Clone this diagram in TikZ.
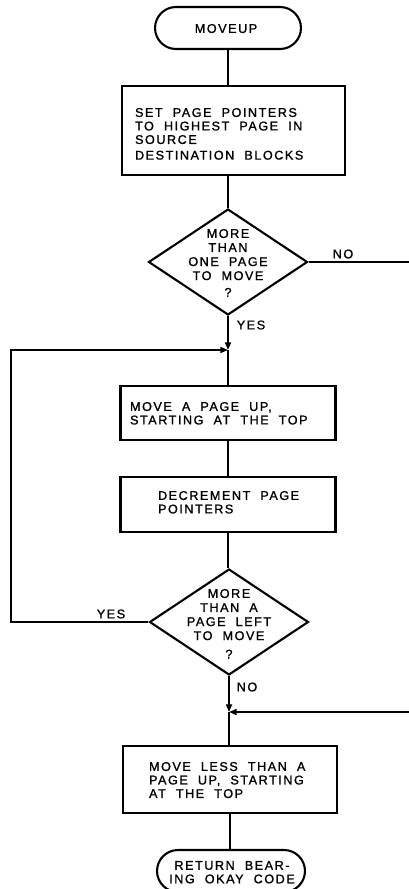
\documentclass[tikz,border=0pt]{standalone}
\usepackage{fontspec}
\usetikzlibrary{shapes.geometric,shapes.misc,arrows.meta}
\newfontfamily\labfont[LetterSpace=12,WordSpace=2,FakeBold=1.2]{Liberation Sans}
\begin{document}
\begin{tikzpicture}[x=0.02cm,y=-0.02cm,
  line width=1.2pt,
  every node/.style={inner sep=0pt},
  lbl/.style={font=\labfont\fontsize{7.2}{7.7}\selectfont},
  txtl/.style={lbl,align=left,anchor=north west},
  txtc/.style={lbl,align=center,anchor=north},
  txtd/.style={font=\labfont\fontsize{7.2}{8.0}\selectfont,align=center,anchor=north},
  term/.style={draw,rounded rectangle,minimum height=0.84cm},
  proc/.style={draw,rectangle},
  dec/.style={draw,diamond,minimum width=3.18cm,minimum height=2.12cm},
  arr/.style={-{Triangle[length=4.4pt,width=3.4pt]}}]
\useasboundingbox (0,0) rectangle (409,889);
% shapes
\node[term,minimum width=2.92cm] (t1) at (228,28) {};
\node[proc,minimum width=4.46cm,minimum height=1.78cm] (b1) at (233.5,130.5) {};
\node[dec] (d1) at (228,262) {};
\node[proc,minimum width=4.3cm,minimum height=1.08cm] (b2) at (228,413) {};
\node[proc,minimum width=4.3cm,minimum height=1.1cm] (b3) at (228,504.5) {};
\node[dec] (d2) at (229,622) {};
\node[proc,minimum width=4.28cm,minimum height=1.34cm] (b4) at (230,779.5) {};
\node[term,minimum width=2.96cm] (t2) at (231,871) {};
% texts
\node[txtc] (x0) at (226,23) {MOVEUP};
\node[txtl] (x1) at (134,107) {SET PAGE POINTERS\\TO HIGHEST PAGE IN\\SOURCE\\[1.2pt]DESTINATION BLOCKS};
\node[txtd] (x2) at (228,228) {MORE\\THAN\\ONE PAGE\\TO MOVE\\[1.5pt]?};
\node[txtl] (x3) at (129,401) {MOVE A PAGE UP,\\STARTING AT THE TOP};
\node[txtl] (x4) at (157,490) {DECREMENT PAGE\\POINTERS};
\node[txtd] (x5) at (229,588) {MORE\\THAN A\\PAGE LEFT\\TO MOVE\\[2.5pt]?};
\node[txtl] (x6) at (148,761) {MOVE LESS THAN A\\PAGE UP, STARTING\\AT THE TOP};
\node[txtc] (x7) at (232,860) {RETURN BEAR-\\ING OKAY CODE};
\node[lbl] (no1) at (343,254) {NO};
\node[lbl] (yes1) at (251,325) {YES};
\node[lbl] (yes2) at (111,614) {YES};
\node[lbl] (no2) at (247,687) {NO};
% coordinates
\coordinate (j1) at (228,350);
\coordinate (j2) at (229,712);
\coordinate (lx) at (11,350);
\coordinate (re1) at (409,262);
\coordinate (re2) at (409,712);
% connectors
\draw (t1.south) -- (t1.south |- b1.north);
\draw (d1.north |- b1.south) -- (d1.north);
\draw (d1.east) -- (re1);
\draw[arr] (d1.south) -- (j1);
\draw (j1) -- (b2.north);
\draw (b2.south) -- (b3.north);
\draw (b3.south) -- (b3.south |- d2.north);
\draw[arr] (d2.west) -- (d2.west -| lx) -- (lx) -- (j1);
\draw[arr] (d2.south) -- (j2);
\draw[arr] (re2) -- (j2);
\draw (j2) -- (j2 |- b4.north);
\draw (b4.south) -- (b4.south |- t2.north);
\end{tikzpicture}
\end{document}
